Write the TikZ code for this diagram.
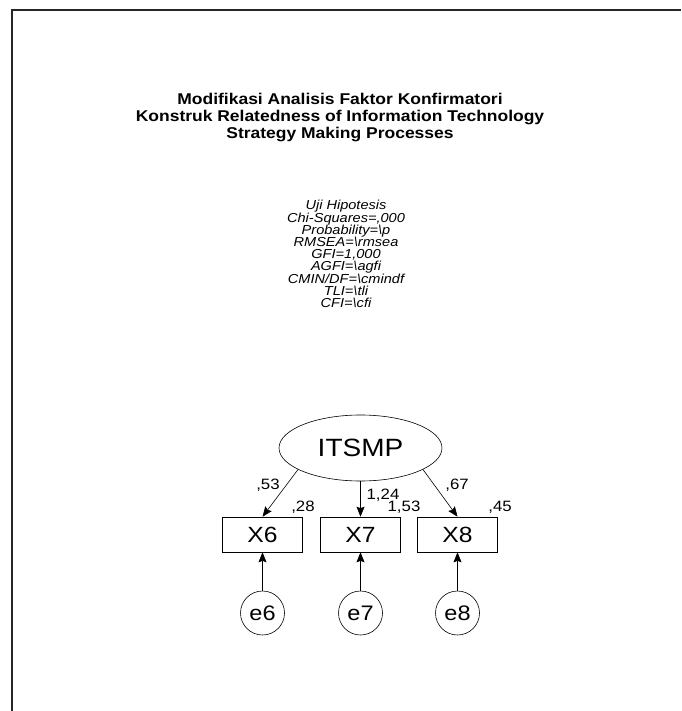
\documentclass[tikz,border=0pt]{standalone}
\usepackage{fontspec}
\setmainfont{Liberation Sans}[FakeStretch=1.12]
\usetikzlibrary{arrows.meta,shapes.geometric}
\tikzset{
  frame/.style={line width=1.6pt, draw=black!85},
  latent/.style={draw, ellipse, line width=0.6pt, minimum width=163pt, minimum height=66pt, inner sep=0pt, font=\fontsize{25}{27}\selectfont},
  obs/.style={draw, rectangle, line width=0.6pt, minimum width=80pt, minimum height=35pt, inner sep=0pt, font=\fontsize{22}{24}\selectfont},
  err/.style={draw, circle, line width=0.6pt, minimum size=44pt, inner sep=0pt, font=\fontsize{21}{23}\selectfont},
  lbl/.style={inner sep=0pt, font=\fontsize{15}{16}\selectfont},
  path/.style={line width=0.6pt, -{Stealth[length=10pt,width=8pt,inset=1.5pt]}},
  title/.style={align=center, inner sep=0pt, font=\fontsize{15.6}{17}\selectfont\bfseries},
  stats/.style={align=center, inner sep=0pt, font=\fontsize{13}{12.2}\selectfont\itshape}
}
\begin{document}
\begin{tikzpicture}[x=1pt,y=-1pt]
\useasboundingbox (0,0) rectangle (681,711);
\fill[white] (0,0) rectangle (681,711);
\draw[frame] (681,10) -- (12,10) -- (12,711);
\node[title] (t) at (340,118) {Modifikasi Analisis Faktor Konfirmatori\\Konstruk Relatedness of Information Technology\\Strategy Making Processes};
\node[stats] (s) at (346,254) {Uji Hipotesis\\Chi-Squares=,000\\Probability=\textbackslash p\\RMSEA=\textbackslash rmsea\\GFI=1,000\\AGFI=\textbackslash agfi\\CMIN/DF=\textbackslash cmindf\\TLI=\textbackslash tli\\CFI=\textbackslash cfi};
\node[latent] (L) at (360.5,448) {ITSMP};
\node[obs] (x6) at (262.5,534.5) {X6};
\node[obs] (x7) at (360.5,534.5) {X7};
\node[obs] (x8) at (457.5,534.5) {X8};
\node[err] (e6) at (262.5,613) {e6};
\node[err] (e7) at (360.5,613) {e7};
\node[err] (e8) at (457.5,613) {e8};
\draw[path] (L.199) -- (x6.north);
\draw[path] (L.south) -- (x7.north);
\draw[path] (L.341) -- (x8.north);
\draw[path] (e6) -- (x6);
\draw[path] (e7) -- (x7);
\draw[path] (e8) -- (x8);
\node[lbl] (l1) at (268,485) {,53};
\node[lbl] (l2) at (303,507) {,28};
\node[lbl] (l3) at (383,495) {1,24};
\node[lbl] (l4) at (404,507) {1,53};
\node[lbl] (l5) at (457,485) {,67};
\node[lbl] (l6) at (500,507) {,45};
\end{tikzpicture}
\end{document}
